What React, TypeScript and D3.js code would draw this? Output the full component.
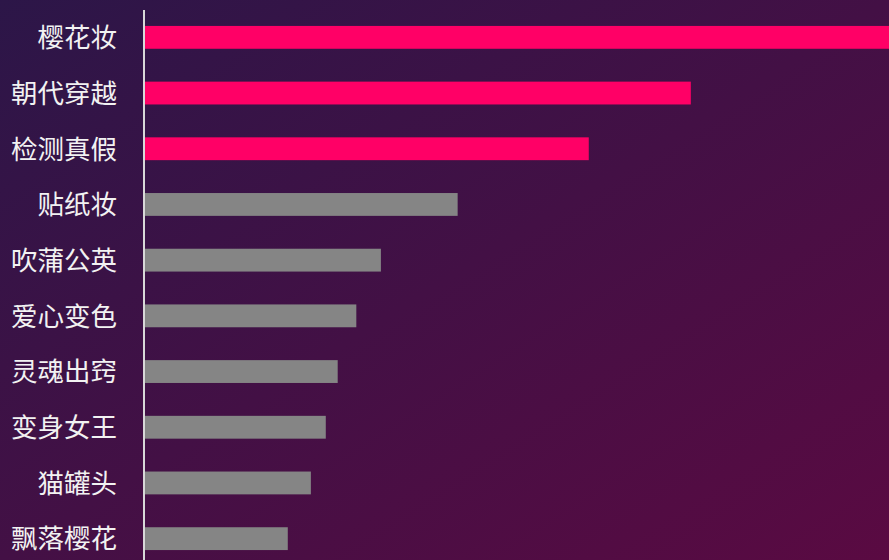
import React from "react";
import * as d3 from "d3";

const categories = ["樱花妆", "朝代穿越", "检测真假", "贴纸妆", "吹蒲公英", "爱心变色", "灵魂出窍", "变身女王", "猫罐头", "飘落樱花"];
const values = [1000, 734, 597, 421, 318, 285, 260, 244, 224, 193];
const highlightCount = 3;

const W = 889;
const H = 560;

export default function App() {
  const left = 144;
  const top = 10;
  const step = 55.7;
  const y = d3
    .scaleBand<string>()
    .domain(categories)
    .range([top, top + step * categories.length])
    .paddingInner(0.59)
    .paddingOuter(0.295);
  const x = d3.scaleLinear().domain([0, d3.max(values) as number]).range([left, W]);

  return (
    <svg width={W} height={H} style={{ position: "absolute", left: 0, top: 0, display: "block" }}>
      <defs>
        <linearGradient id="bg" x1="0" y1="0" x2="1" y2="1">
          <stop offset="0%" stopColor="#2c1648" />
          <stop offset="100%" stopColor="#5a0a42" />
        </linearGradient>
      </defs>
      <rect x={0} y={0} width={W} height={H} fill="url(#bg)" />
      {categories.map((c, i) => (
        <rect
          key={c}
          x={x(0)}
          y={(y(c) as number) - 0.5}
          width={x(values[i]) - x(0)}
          height={y.bandwidth()}
          fill={i < highlightCount ? "#ff0066" : "#858585"}
        />
      ))}
      <line x1={left} x2={left} y1={top} y2={H + 10} stroke="#d8d8d8" strokeWidth={2} />
      {categories.map((c) => (
        <text
          key={c}
          x={117}
          y={(y(c) as number) + y.bandwidth() / 2}
          dy="0.35em"
          textAnchor="end"
          fill="#f2f2f2"
          fontSize={26.5}
          fontFamily="'Noto Sans CJK SC', sans-serif"
        >
          {c}
        </text>
      ))}
    </svg>
  );
}
